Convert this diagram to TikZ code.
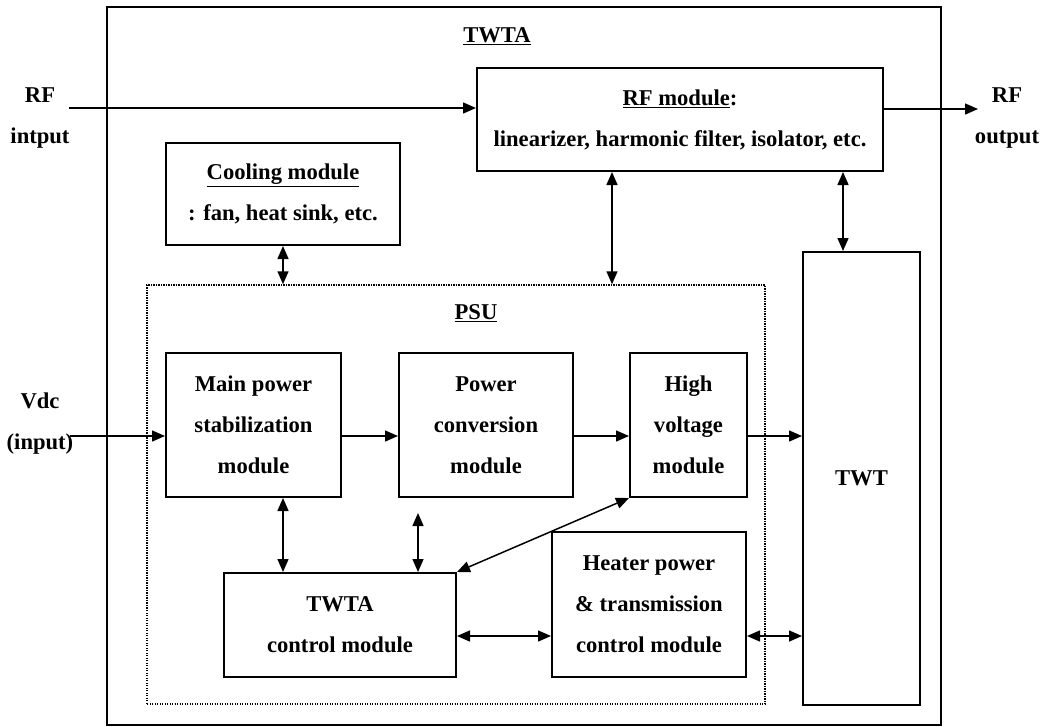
\documentclass[tikz,border=0pt]{standalone}
\usepackage{fontspec}
\setmainfont{Liberation Serif}
\usetikzlibrary{arrows.meta}

\begin{document}
\begin{tikzpicture}[x=1pt,y=-1pt,
	every node/.style={font=\bfseries\fontsize{22.6}{41}\selectfont},
	box/.style={draw,line width=2pt,align=center,inner sep=0pt},
	lbl/.style={align=center,inner sep=0pt},
	arr/.style={line width=1.5pt,-{Triangle[length=13pt,width=11pt]}},
	darr/.style={line width=1.5pt,{Triangle[length=13pt,width=11pt]}-{Triangle[length=13pt,width=11pt]}}]
	\useasboundingbox (0,0) rectangle (1044,726);

	% TWTA frame and PSU frame
	\draw[line width=2.4pt] (107,7) rectangle (941,725);
	\node[lbl] (twta) at (497,36) {\underline{TWTA}};
	\node[draw,line width=1.5pt,dash pattern=on 1.2pt off 1.3pt,minimum width=618pt,minimum height=419pt] (psu) at (456,494.5) {};
	\node[lbl] (psulbl) at (476,313) {\underline{PSU}};

	% blocks
	\node[box,minimum width=406pt,minimum height=103pt] (rf) at (680,119.5) {\underline{RF module}:\\ linearizer, harmonic filter, isolator, etc.};
	\node[box,minimum width=234pt,minimum height=102pt] (cool) at (283,194) {\underline{Cooling module}\\ : fan, heat sink, etc.};
	\node[box,minimum width=175pt,minimum height=144pt] (main) at (253.5,425) {Main power\\ stabilization\\ module};
	\node[box,minimum width=174pt,minimum height=144pt] (conv) at (486,425) {Power\\ conversion\\ module};
	\node[box,minimum width=117pt,minimum height=144pt] (hv) at (688.5,425) {High\\ voltage\\ module};
	\node[box,minimum width=232pt,minimum height=104pt] (ctrl) at (340,625) {TWTA\\ control module};
	\node[box,minimum width=194pt,minimum height=145pt] (heat) at (649,604.5) {Heater power\\ \& transmission\\ control module};
	\node[box,minimum width=117pt,minimum height=453pt] (twt) at (861.5,478.5) {TWT};

	% outside labels
	\node[lbl] (rfin) at (40,118) {RF\\ intput};
	\node[lbl] (rfout) at (1007,118) {RF\\ output};
	\node[lbl] (vdc) at (40,424) {Vdc\\ (input)};

	% helper points
	\coordinate (ya) at (69,108);
	\coordinate (yb) at (978,109);
	\coordinate (yc) at (70,436);
	\coordinate (yd) at (0,636);
	\coordinate (xa) at (612,0);
	\coordinate (xb) at (843,0);
	\coordinate (xc) at (283,0);
	\coordinate (xd) at (418,0);

	% signal flow
	\draw[arr] (ya) -- (ya -| rf.west);
	\draw[arr] (yb -| rf.east) -- (yb);
	\draw[arr] (yc) -- (yc -| main.west);
	\draw[arr] (yc -| main.east) -- (yc -| conv.west);
	\draw[arr] (yc -| conv.east) -- (yc -| hv.west);
	\draw[arr] (yc -| hv.east) -- (yc -| twt.west);

	% two-way links
	\draw[darr] (cool.south) -- (cool.south |- psu.north);
	\draw[darr] (rf.south -| xa) -- (psu.north -| xa);
	\draw[darr] (rf.south -| xb) -- (twt.north -| xb);
	\draw[darr] (main.south -| xc) -- (ctrl.north -| xc);
	\draw[darr] ([yshift=-15pt]conv.south -| xd) -- (ctrl.north -| xd);
	\draw[darr] (ctrl.north east) -- (hv.south west);
	\draw[darr] (ctrl.east |- yd) -- (heat.west |- yd);
	\draw[darr] (heat.east |- yd) -- (twt.west |- yd);
\end{tikzpicture}
\end{document}
